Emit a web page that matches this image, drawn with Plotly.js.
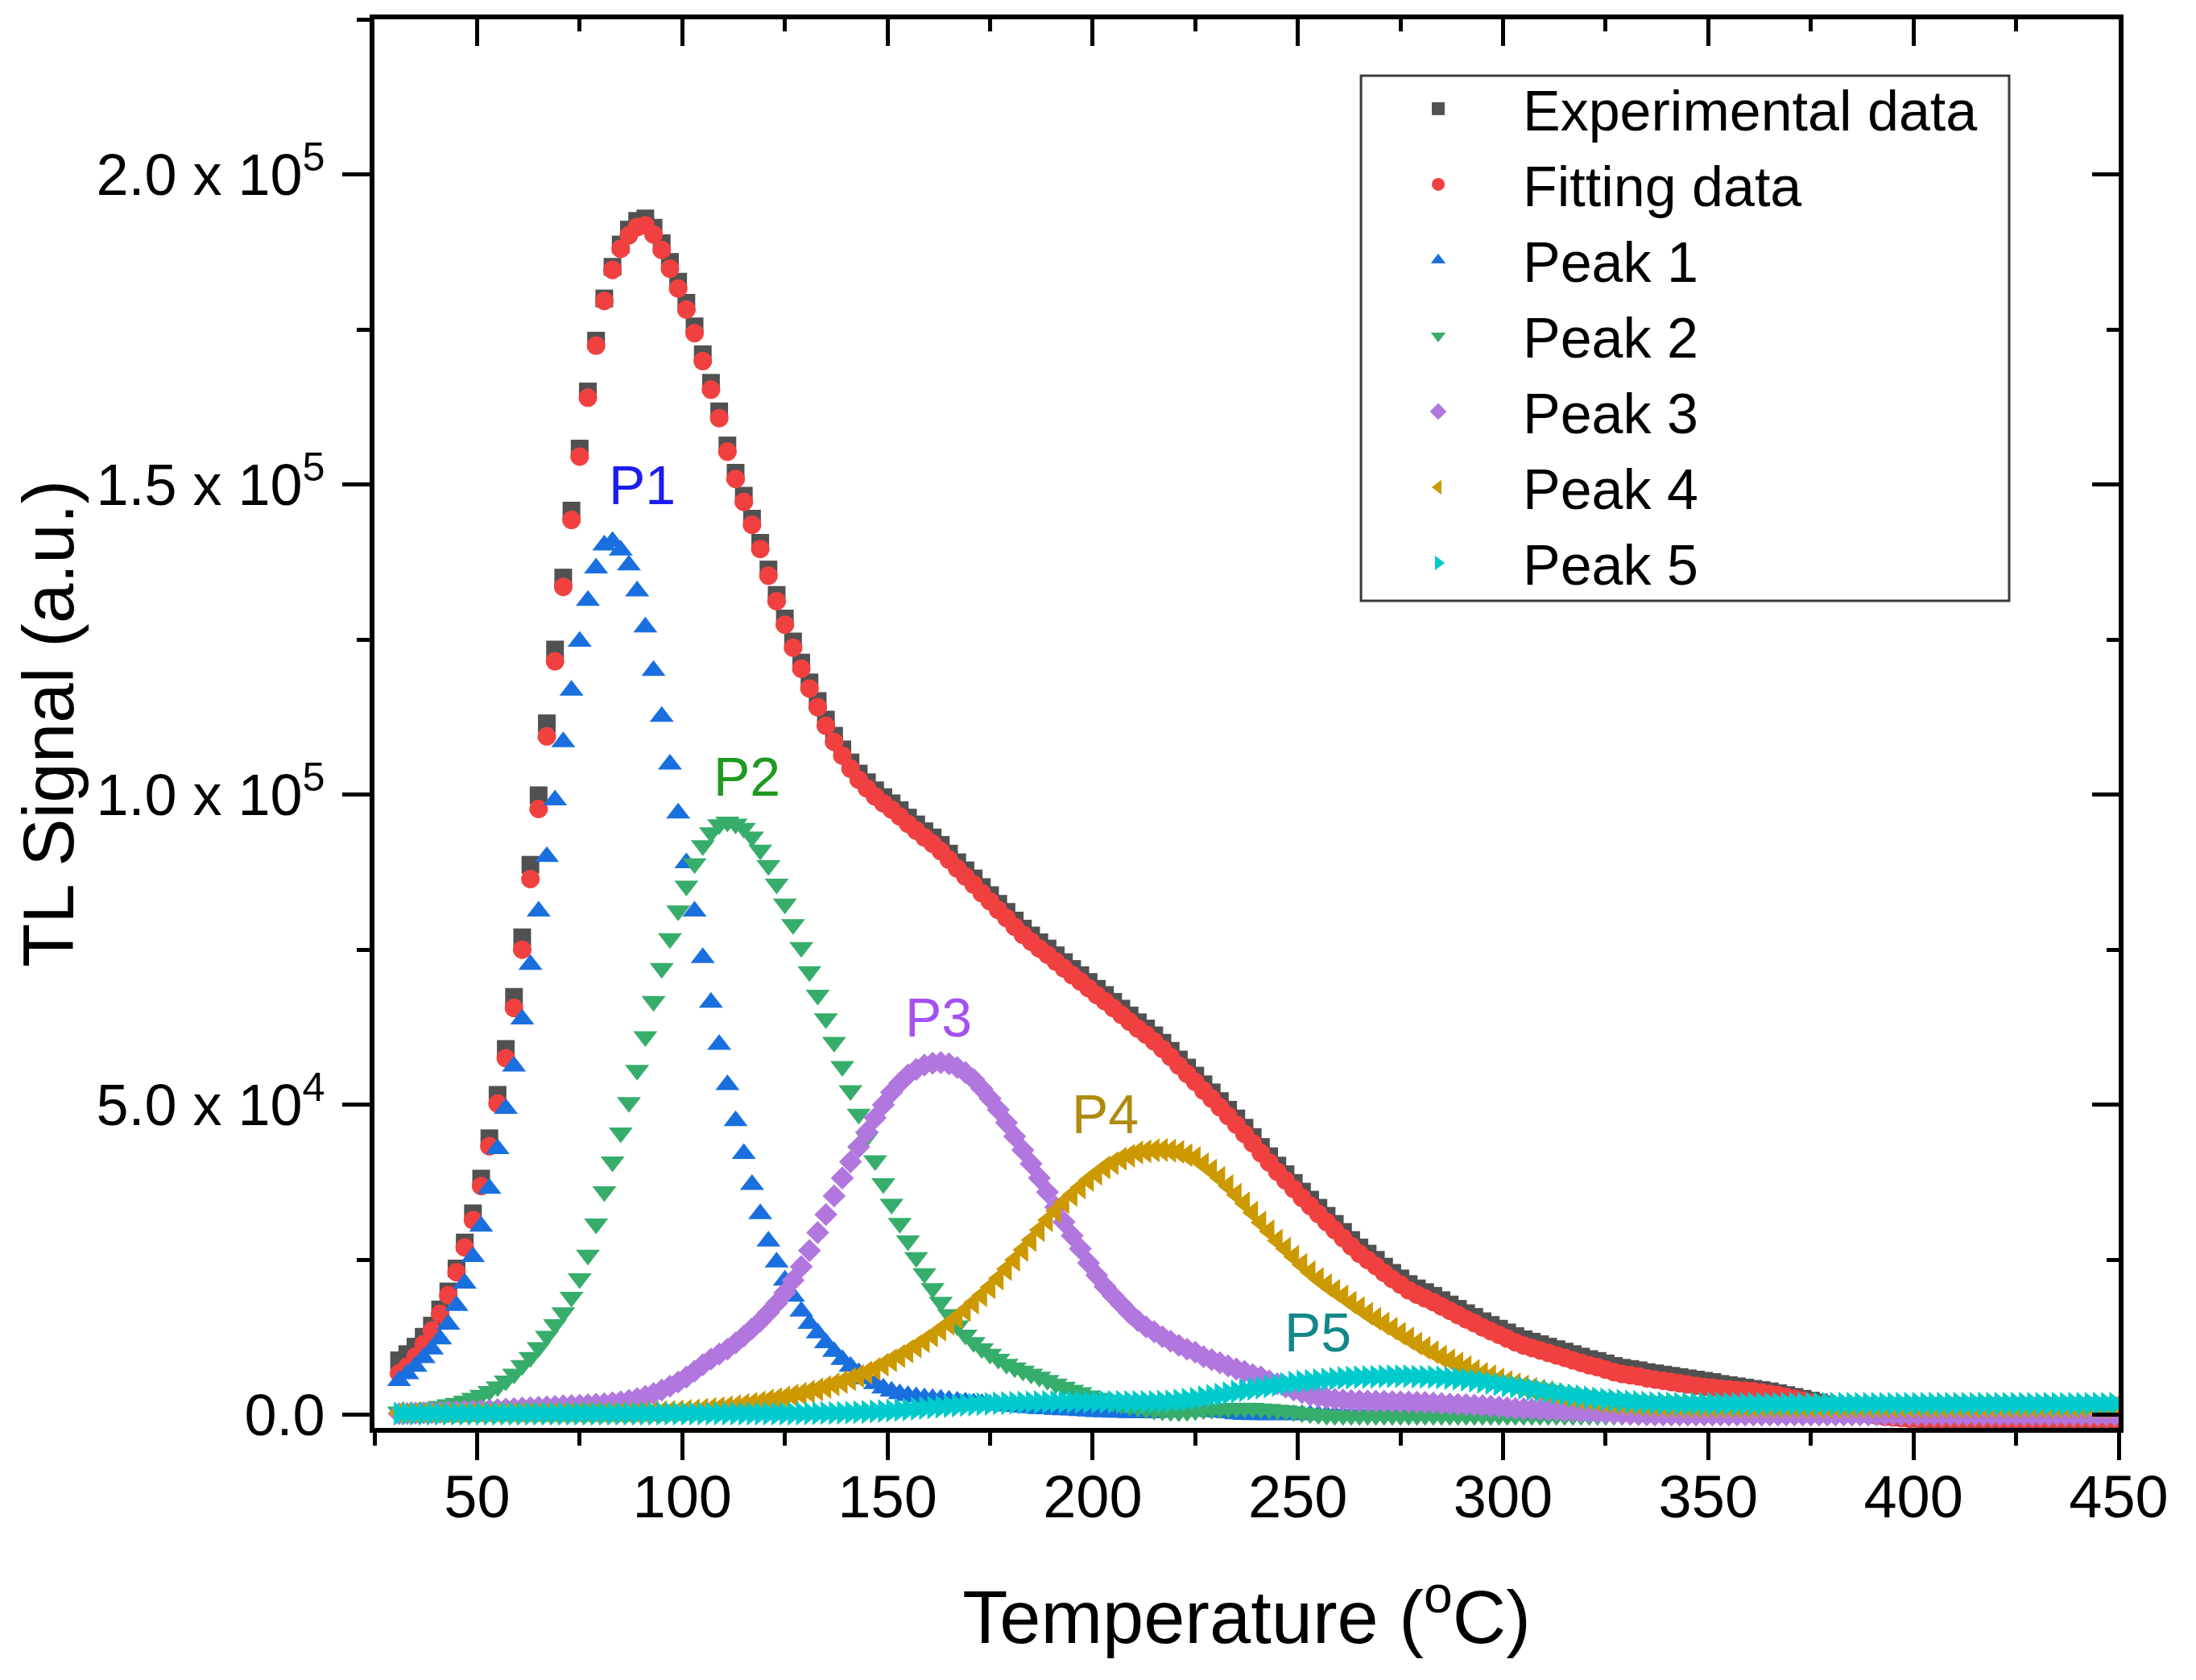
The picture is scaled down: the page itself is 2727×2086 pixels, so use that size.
<!DOCTYPE html>
<html>
<head>
<meta charset="utf-8">
<script src="https://cdn.plot.ly/plotly-3.0.1.min.js"></script>
<style>html,body{margin:0;padding:0;background:#fff;}#chart{width:2727px;height:2086px;}</style>
</head>
<body>
<div id="chart"></div>
<script>
// Temperature (°C), one reading every 2 °C
const temperature = [31,33,35,37,39,41,43,45,47,49,
51,53,55,57,59,61,63,65,67,69,
71,73,75,77,79,81,83,85,87,89,
91,93,95,97,99,101,103,105,107,109,
111,113,115,117,119,121,123,125,127,129,
131,133,135,137,139,141,143,145,147,149,
151,153,155,157,159,161,163,165,167,169,
171,173,175,177,179,181,183,185,187,189,
191,193,195,197,199,201,203,205,207,209,
211,213,215,217,219,221,223,225,227,229,
231,233,235,237,239,241,243,245,247,249,
251,253,255,257,259,261,263,265,267,269,
271,273,275,277,279,281,283,285,287,289,
291,293,295,297,299,301,303,305,307,309,
311,313,315,317,319,321,323,325,327,329,
331,333,335,337,339,341,343,345,347,349,
351,353,355,357,359,361,363,365,367,369,
371,373,375,377,379,381,383,385,387,389,
391,393,395,397,399,401,403,405,407,409,
411,413,415,417,419,421,423,425,427,429,
431,433,435,437,439,441,443,445,447,449];

// TL signal values in thousands (a.u. / 1000)
const experimental = [8.8,9.8,11.0,12.6,14.4,17.0,19.9,23.6,27.8,32.5,
38.1,44.6,51.6,59.0,67.4,77.0,88.7,99.9,111.5,123.4,
135.0,145.8,155.8,165.0,173.2,180.0,185.1,188.7,191.1,192.5,
192.9,191.4,188.9,185.9,182.7,179.3,175.5,171.0,166.4,161.8,
156.3,151.9,148.2,144.5,140.6,136.3,132.2,128.4,124.7,121.3,
118.1,115.1,112.1,109.5,107.3,105.2,103.4,102.0,100.7,99.6,
98.6,97.5,96.3,95.2,94.1,93.1,91.9,90.5,89.1,87.8,
86.5,85.1,83.8,82.4,81.1,79.7,78.4,77.3,76.2,75.2,
74.1,73.0,71.9,70.9,69.8,68.7,67.7,66.6,65.5,64.4,
63.3,62.3,61.2,60.0,58.7,57.3,56.0,54.7,53.3,52.0,
50.6,49.2,47.8,46.3,44.8,43.2,41.7,40.2,38.8,37.4,
36.0,34.7,33.4,32.1,30.8,29.5,28.2,27.0,26.0,25.0,
23.9,22.9,22.0,21.1,20.4,19.8,19.2,18.5,17.8,17.1,
16.4,15.8,15.1,14.5,13.9,13.3,12.7,12.2,11.8,11.4,
11.0,10.6,10.2,9.8,9.4,9.0,8.7,8.3,7.9,7.6,
7.4,7.2,6.9,6.7,6.5,6.3,6.1,5.9,5.7,5.5,
5.3,5.0,4.8,4.6,4.4,4.2,4.0,3.8,3.5,3.2,
2.9,2.6,2.3,2.0,1.7,1.4,1.1,0.8,0.6,0.4,
0.1,-0.1,-0.2,-0.4,-0.5,-0.6,-0.7,-0.8,-0.8,-0.9,
-0.9,-1.0,-1.0,-1.0,-1.1,-1.1,-1.1,-1.1,-1.1,-1.1,
-1.1,-1.1,-1.1,-1.1,-1.1,-1.1,-1.1,-1.1,-1.1,-1.1];

const fitting = [6.7,7.8,9.4,11.4,13.6,16.3,19.3,23.0,27.0,31.4,
36.9,43.3,50.2,57.5,65.6,75.0,86.4,97.7,109.4,121.5,
133.5,144.3,154.5,164.0,172.4,179.6,184.6,188.0,190.2,191.5,
191.8,190.3,187.8,184.8,181.6,178.2,174.4,169.9,165.3,160.7,
155.3,150.9,147.2,143.5,139.6,135.3,131.2,127.4,123.7,120.3,
117.1,114.1,111.1,108.5,106.3,104.2,102.4,101.0,99.7,98.6,
97.6,96.5,95.3,94.2,93.1,92.1,90.9,89.5,88.1,86.8,
85.5,84.1,82.8,81.4,80.1,78.7,77.4,76.3,75.2,74.2,
73.1,72.0,70.9,69.9,68.8,67.7,66.7,65.6,64.5,63.4,
62.3,61.3,60.2,59.0,57.7,56.3,55.0,53.7,52.3,51.0,
49.6,48.2,46.8,45.3,43.8,42.2,40.7,39.2,37.8,36.4,
35.0,33.7,32.4,31.1,29.8,28.5,27.2,26.0,25.0,24.0,
22.9,21.9,21.0,20.1,19.4,18.8,18.2,17.5,16.8,16.1,
15.4,14.8,14.1,13.5,12.9,12.3,11.7,11.2,10.8,10.4,
10.0,9.6,9.2,8.8,8.4,8.0,7.7,7.3,6.9,6.6,
6.4,6.2,5.9,5.7,5.5,5.3,5.1,4.9,4.7,4.5,
4.4,4.2,4.1,4.0,3.9,3.8,3.6,3.4,3.2,2.9,
2.6,2.3,2.0,1.6,1.3,1.0,0.8,0.5,0.3,0.1,
-0.1,-0.3,-0.4,-0.5,-0.6,-0.6,-0.6,-0.6,-0.6,-0.6,
-0.6,-0.6,-0.6,-0.6,-0.6,-0.6,-0.6,-0.6,-0.6,-0.6,
-0.6,-0.6,-0.6,-0.6,-0.6,-0.6,-0.6,-0.6,-0.6,-0.6];

const peak1 = [5.5,6.6,7.8,9.2,10.6,12.2,14.6,17.6,21.2,25.5,
30.4,36.5,42.9,49.4,56.2,63.8,72.6,81.2,90.0,99.1,
108.5,116.8,124.7,131.3,136.5,140.2,140.8,139.4,137.0,132.8,
127.0,120.0,112.6,104.9,97.0,89.0,81.2,73.7,66.5,59.7,
53.2,47.4,42.1,37.1,32.4,28.0,24.6,21.7,19.1,16.7,
14.7,13.2,11.6,10.2,8.9,7.8,6.8,5.8,5.0,4.3,
3.8,3.4,3.1,2.9,2.75,2.6,2.5,2.35,2.2,2.05,
1.9,1.8,1.65,1.55,1.4,1.3,1.2,1.1,1.0,0.95,
0.85,0.8,0.75,0.65,0.6,0.5,0.45,0.4,0.4,0.35,
0.3,0.3,0.3,0.4,0.45,0.55,0.6,0.6,0.55,0.5,
0.4,0.3,0.15,0.05,0,0,0,0,0,0,
0,0,0,0,0,0,0,0,0,0,
0,0,0,0,0,0,0,0,0,0,
0,0,0,0,0,0,0,0,0,0,
0,0,0,0,0,0,0,0,0,0,
0,0,0,0,0,0,0,0,0,0,
0,0,0,0,0,0,0,0,0,0,
0,0,0,0,0,0,0,0,0,0,
0,0,0,0,0,0,0,0,0,0,
0,0,0,0,0,0,0,0,0,0,
0,0,0,0,0,0,0,0,0,0];

const peak2 = [0.5,0.7,0.85,1.0,1.15,1.4,1.65,1.9,2.25,2.7,
3.2,3.8,4.55,5.5,6.6,8.0,9.3,10.9,12.7,14.6,
16.5,19.0,22.0,25.8,30.8,36.0,40.8,45.5,50.4,55.6,
61.0,66.7,72.0,76.8,81.3,85.3,88.9,91.8,93.9,95.2,
95.6,95.3,94.6,93.2,91.1,88.6,85.6,82.4,79.1,75.4,
71.5,67.7,63.9,60.1,56.2,52.3,48.5,44.8,41.0,37.3,
34.0,30.9,28.1,25.4,22.8,20.4,18.2,16.2,14.4,12.9,
11.7,10.7,9.8,9.0,8.2,7.6,7.1,6.6,6.1,5.6,
5.0,4.5,4.0,3.6,3.1,2.7,2.4,2.05,1.75,1.45,
1.2,1.0,0.8,0.65,0.55,0.5,0.55,0.7,0.85,0.92,
1.0,1.04,1.08,1.1,1.08,1.0,0.92,0.8,0.68,0.52,
0.35,0.22,0.08,-0.05,-0.1,-0.1,-0.1,-0.1,-0.1,-0.1,
-0.1,-0.1,-0.1,-0.1,-0.1,-0.1,-0.1,-0.1,-0.1,-0.1,
-0.1,-0.1,-0.1,-0.1,-0.1,-0.1,-0.1,-0.1,-0.1,-0.1,
-0.1,-0.1,-0.1,-0.1,-0.1,-0.1,-0.1,-0.1,-0.1,-0.1,
-0.1,-0.1,-0.1,-0.1,-0.1,-0.1,-0.1,-0.1,-0.1,-0.1,
-0.1,-0.1,-0.1,-0.1,-0.1,-0.1,-0.1,-0.1,-0.1,-0.1,
-0.1,-0.1,-0.1,-0.1,-0.1,-0.1,-0.1,-0.1,-0.1,-0.1,
-0.1,-0.1,-0.1,-0.1,-0.1,-0.1,-0.1,-0.1,-0.1,-0.1,
-0.1,-0.1,-0.1,-0.1,-0.1,-0.1,-0.1,-0.1,-0.1,-0.1,
-0.1,-0.1,-0.1,-0.1,-0.1,-0.1,-0.1,-0.1,-0.1,-0.1];

const peak3 = [0.2,0.24,0.28,0.32,0.36,0.4,0.48,0.53,0.59,0.66,
0.7,0.78,0.86,0.94,1.02,1.1,1.18,1.23,1.29,1.37,
1.45,1.5,1.56,1.64,1.72,1.8,1.96,2.12,2.34,2.64,
3.0,3.44,4.0,4.62,5.3,6.1,7.06,8.08,9.0,9.8,
10.6,11.6,12.7,13.9,15.1,16.5,18.0,19.7,21.7,23.9,
26.5,29.4,32.3,35.3,38.2,40.8,43.2,45.6,47.9,50.0,
52.0,53.5,54.8,55.7,56.4,56.7,56.8,56.6,56.0,55.2,
54.1,52.6,51.0,49.2,47.1,44.9,42.7,40.5,38.2,35.9,
33.5,31.1,28.9,26.8,24.5,22.5,20.7,19.2,17.8,16.4,
15.2,14.2,13.4,12.6,11.9,11.2,10.6,10.1,9.4,8.9,
8.4,7.9,7.4,7.0,6.5,6.1,5.5,5.0,4.5,4.0,
3.6,3.2,2.9,2.7,2.5,2.4,2.3,2.27,2.23,2.2,
2.2,2.16,2.12,2.08,2.04,2.0,1.92,1.84,1.76,1.69,
1.65,1.57,1.49,1.39,1.27,1.15,1.03,0.97,0.91,0.83,
0.75,0.71,0.64,0.56,0.49,0.45,0.37,0.29,0.23,0.18,
0.1,0.06,0.02,0,0,0,0,0,0,0,
0,0,0,0,0,0,0,0,0,0,
0,0,0,0,0,0,0,0,0,0,
0,0,0,0,0,0,0,0,0,0,
0,0,0,0,0,0,0,0,0,0,
0,0,0,0,0,0,0,0,0,0];

const peak4 = [0.3,0.3,0.3,0.3,0.3,0.3,0.3,0.3,0.3,0.3,
0.3,0.3,0.3,0.3,0.3,0.3,0.3,0.3,0.3,0.3,
0.3,0.3,0.3,0.3,0.3,0.3,0.3,0.3,0.3,0.3,
0.35,0.39,0.43,0.49,0.57,0.65,0.73,0.84,0.96,1.09,
1.25,1.41,1.6,1.8,2.02,2.3,2.54,2.81,3.11,3.43,
3.75,4.11,4.5,4.9,5.31,5.75,6.27,6.82,7.42,8.08,
8.8,9.5,10.25,11.04,11.9,12.8,13.76,14.72,15.76,16.9,
18.1,19.3,20.6,22.0,23.5,25.0,26.6,28.2,29.8,31.4,
32.9,34.3,35.5,36.7,37.9,38.9,39.9,40.6,41.3,41.8,
42.3,42.5,42.66,42.7,42.6,42.4,41.9,41.4,40.4,39.4,
38.2,36.9,35.5,34.1,32.6,31.0,29.6,28.1,26.8,25.5,
24.2,23.0,21.9,20.9,20.0,19.1,18.1,17.2,16.3,15.5,
14.7,13.9,13.1,12.3,11.5,10.8,10.1,9.4,8.8,8.3,
7.7,7.1,6.6,6.2,5.7,5.3,4.9,4.6,4.2,3.9,
3.6,3.3,3.0,2.8,2.55,2.4,2.16,2.0,1.86,1.78,
1.7,1.62,1.54,1.48,1.44,1.4,1.36,1.33,1.3,1.3,
1.3,1.3,1.3,1.3,1.3,1.3,1.3,1.3,1.3,1.3,
1.3,1.3,1.3,1.3,1.3,1.3,1.3,1.3,1.3,1.3,
1.3,1.3,1.3,1.3,1.3,1.3,1.3,1.3,1.3,1.3,
1.3,1.3,1.3,1.3,1.3,1.3,1.3,1.3,1.3,1.3,
1.3,1.3,1.3,1.3,1.3,1.3,1.3,1.3,1.3,1.3];

const peak5 = [0.2,0.2,0.2,0.2,0.2,0.2,0.2,0.2,0.2,0.2,
0.2,0.2,0.2,0.2,0.2,0.2,0.2,0.2,0.2,0.2,
0.2,0.2,0.2,0.2,0.2,0.2,0.2,0.2,0.2,0.2,
0.2,0.2,0.2,0.2,0.2,0.2,0.2,0.2,0.2,0.2,
0.2,0.2,0.2,0.2,0.2,0.2,0.2,0.2,0.2,0.22,
0.25,0.27,0.29,0.31,0.34,0.37,0.43,0.48,0.55,0.62,
0.7,0.8,0.9,1.0,1.1,1.2,1.3,1.4,1.5,1.59,
1.67,1.74,1.81,1.86,1.91,1.95,1.99,2.02,2.04,2.07,
2.08,2.09,2.1,2.1,2.1,2.1,2.1,2.1,2.1,2.1,
2.1,2.1,2.1,2.12,2.18,2.3,2.46,2.62,2.82,3.05,
3.25,3.49,3.73,3.97,4.2,4.4,4.6,4.8,5.0,5.19,
5.35,5.47,5.59,5.71,5.83,5.95,6.03,6.08,6.12,6.16,
6.2,6.24,6.25,6.23,6.19,6.15,6.11,6.04,5.96,5.86,
5.7,5.54,5.35,5.15,4.95,4.75,4.55,4.35,4.15,3.95,
3.75,3.55,3.35,3.17,3.0,2.8,2.64,2.51,2.39,2.27,
2.15,2.07,1.99,1.93,1.89,1.85,1.81,1.8,1.8,1.8,
1.8,1.8,1.8,1.8,1.8,1.8,1.8,1.8,1.8,1.8,
1.8,1.8,1.8,1.8,1.8,1.8,1.8,1.8,1.8,1.8,
1.8,1.8,1.8,1.8,1.8,1.8,1.8,1.8,1.8,1.8,
1.8,1.8,1.8,1.8,1.8,1.8,1.8,1.8,1.8,1.8,
1.8,1.8,1.8,1.8,1.8,1.8,1.8,1.8,1.8,1.8];

const UNIT = 1000;
const seriesNames = ['Experimental data','Fitting data','Peak 1','Peak 2','Peak 3','Peak 4','Peak 5'];
const seriesValues = [experimental, fitting, peak1, peak2, peak3, peak4, peak5];
const seriesColors = ['#515151','#F14040','#1A6FDF','#37AD6B','#B177DE','#CC9900','#00CBCC'];
const seriesSymbols = ['square','circle','triangle-up','triangle-down','diamond','triangle-left','triangle-right'];
const seriesSizes = [22,23,26,26,22,26,26];

const xTicks = [50,100,150,200,250,300,350,400,450];
const yTicks = [0,50000,100000,150000,200000];
const yTickText = ['0.0','5.0 x 10<sup>4</sup>','1.0 x 10<sup>5</sup>','1.5 x 10<sup>5</sup>','2.0 x 10<sup>5</sup>'];

const peakLabels = ['P1','P2','P3','P4','P5'];
const peakLabelX = [90.3,115.7,162.5,203,254.9];
const peakLabelY = [150000,103000,64100,48600,13300];
const peakLabelColors = ['#1C1CF0','#1E9A1E','#A450F2','#B08A0E','#13878A'];

const FONT = 'Liberation Sans, Arial, Helvetica, sans-serif';

const traces = seriesNames.map((name, i) => ({
  type: 'scatter',
  mode: 'markers',
  name: name,
  x: temperature,
  y: seriesValues[i].map(v => v * UNIT),
  marker: {symbol: seriesSymbols[i], size: seriesSizes[i], color: seriesColors[i], line: {width: 0}},
  cliponaxis: true
}));
// empty helper traces so that the mirrored top / right frame axes are drawn
traces.push({type: 'scatter', mode: 'markers', x: [], y: [], xaxis: 'x2', yaxis: 'y', showlegend: false, hoverinfo: 'skip'});
traces.push({type: 'scatter', mode: 'markers', x: [], y: [], xaxis: 'x', yaxis: 'y2', showlegend: false, hoverinfo: 'skip'});

const xRange = [25, 450];
const yRange = [-2100, 225000];

const layout = {
  width: 2727, height: 2086,
  margin: {l: 465, r: 96, t: 24, b: 313, pad: 0},
  paper_bgcolor: '#ffffff', plot_bgcolor: '#ffffff',
  font: {family: FONT, color: '#000'},
  showlegend: true,
  xaxis: {
    range: xRange, tickmode: 'array', tickvals: xTicks, ticktext: xTicks.map(String),
    ticks: 'outside', ticklen: 34, tickwidth: 5, tickcolor: '#000',
    showline: true, linewidth: 6, linecolor: '#000',
    showgrid: false, zeroline: false, automargin: false,
    tickfont: {size: 74, family: FONT, color: '#000'},
    ticklabelstandoff: -18,
    minor: {ticks: 'outside', ticklen: 16, tickwidth: 5, tickcolor: '#000', tickmode: 'linear', tick0: 0, dtick: 25, showgrid: false},
    title: {text: 'Temperature (<sup>o</sup>C)', font: {size: 92, family: FONT, color: '#000'}, standoff: 79}
  },
  yaxis: {
    range: yRange, tickmode: 'array', tickvals: yTicks, ticktext: yTickText,
    ticks: 'outside', ticklen: 34, tickwidth: 5, tickcolor: '#000',
    showline: true, linewidth: 6, linecolor: '#000',
    showgrid: false, zeroline: false, automargin: false,
    tickfont: {size: 72, family: FONT, color: '#000'},
    ticklabelstandoff: 7,
    minor: {ticks: 'outside', ticklen: 16, tickwidth: 5, tickcolor: '#000', tickmode: 'linear', tick0: 0, dtick: 25000, showgrid: false},
    title: {text: 'TL Signal (a.u.)', font: {size: 89, family: FONT, color: '#000'}, standoff: 0}
  },
  xaxis2: {
    overlaying: 'x', side: 'top', anchor: 'y', range: xRange,
    tickmode: 'array', tickvals: xTicks, showticklabels: false,
    ticks: 'inside', ticklen: 33, tickwidth: 5, tickcolor: '#000',
    showline: true, linewidth: 6, linecolor: '#000',
    showgrid: false, zeroline: false,
    minor: {ticks: 'inside', ticklen: 15, tickwidth: 5, tickcolor: '#000', tickmode: 'linear', tick0: 0, dtick: 25, showgrid: false}
  },
  yaxis2: {
    overlaying: 'y', side: 'right', anchor: 'x', range: yRange,
    tickmode: 'array', tickvals: yTicks, showticklabels: false,
    ticks: 'inside', ticklen: 33, tickwidth: 5, tickcolor: '#000',
    showline: true, linewidth: 6, linecolor: '#000',
    showgrid: false, zeroline: false,
    minor: {ticks: 'inside', ticklen: 15, tickwidth: 5, tickcolor: '#000', tickmode: 'linear', tick0: 0, dtick: 25000, showgrid: false}
  },
  legend: {
    x: 0.5614, y: 0.9663, xanchor: 'left', yanchor: 'top',
    bgcolor: 'rgba(0,0,0,0)', borderwidth: 0,
    font: {size: 70, family: FONT, color: '#000'},
    itemwidth: 200, itemsizing: 'trace', tracegroupgap: 0
  },
  shapes: [{
    type: 'rect', xref: 'paper', yref: 'paper',
    x0: 0.5656, x1: 0.9372, y0: 0.5872, y1: 0.960,
    line: {color: '#3a3a3a', width: 3}, fillcolor: '#ffffff', layer: 'below'
  }],
  annotations: peakLabels.map((t, i) => ({
    text: t, x: peakLabelX[i], y: peakLabelY[i], xref: 'x', yref: 'y',
    showarrow: false, xanchor: 'center', yanchor: 'middle',
    font: {size: 68, family: FONT, color: peakLabelColors[i]}
  }))
};

Plotly.newPlot('chart', traces, layout, {displayModeBar: false, staticPlot: true});
</script>
</body>
</html>
